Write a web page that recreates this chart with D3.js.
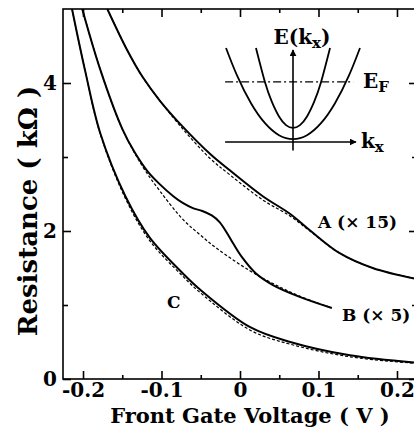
<!DOCTYPE html>
<html>
<head>
<meta charset="utf-8">
<script src="https://cdn.jsdelivr.net/npm/d3@7"></script>
<style>
  html, body { margin: 0; padding: 0; background: #fff; }
  svg { display: block; }
  text { font-family: "DejaVu Serif", "Liberation Serif", serif; font-weight: bold; fill: #000; }
</style>
</head>
<body>
<div id="chart"></div>
<script>
// ---- data (V in volts, R in kOhm) ----
const aSolidV = [-0.169, -0.144, -0.124, -0.102, -0.073, -0.038, -0.013, 0.029, 0.064, 0.089, 0.127, 0.169, 0.2255];
const aSolidR = [5.0, 4.45, 4.08, 3.76, 3.41, 3.04, 2.82, 2.47, 2.23, 2.01, 1.70, 1.50, 1.35];
const aFitV   = [-0.169, -0.144, -0.124, -0.102, -0.073, -0.038, -0.013, 0.029, 0.064, 0.089, 0.127, 0.169, 0.2255];
const aFitR   = [5.0, 4.45, 4.08, 3.76, 3.38, 2.98, 2.76, 2.42, 2.20, 2.00, 1.70, 1.50, 1.35];

const bSolidV = [-0.201, -0.178, -0.150, -0.134, -0.118, -0.102, -0.085, -0.073, -0.060, -0.048, -0.036, -0.026, -0.017, -0.008, 0.003, 0.020, 0.042, 0.076, 0.117];
const bSolidR = [5.0, 4.18, 3.38, 3.06, 2.81, 2.63, 2.47, 2.38, 2.31, 2.27, 2.21, 2.12, 1.98, 1.82, 1.64, 1.43, 1.27, 1.11, 0.96];
const bFitV   = [-0.201, -0.178, -0.150, -0.124, -0.102, -0.073, -0.051, -0.029, 0.013, 0.042, 0.076, 0.117];
const bFitR   = [5.0, 4.18, 3.38, 2.87, 2.54, 2.16, 1.95, 1.76, 1.46, 1.29, 1.12, 0.96];

const cSolidV = [-0.214, -0.197, -0.178, -0.146, -0.115, -0.073, -0.051, 0.013, 0.064, 0.140, 0.2255];
const cSolidR = [5.0, 4.15, 3.32, 2.47, 1.91, 1.43, 1.21, 0.70, 0.50, 0.32, 0.22];
const cFitV   = [-0.214, -0.197, -0.178, -0.146, -0.115, -0.073, -0.051, 0.013, 0.064, 0.140, 0.2255];
const cFitR   = [5.0, 4.15, 3.31, 2.44, 1.87, 1.39, 1.17, 0.66, 0.47, 0.30, 0.21];

const xMajor = [-0.2, -0.1, 0, 0.1, 0.2];
const xMinor = [-0.15, -0.05, 0.05, 0.15];
const yMajor = [0, 2, 4];
const yMinor = [1, 3];

const curveLabels = ["A (× 15)", "B (× 5)", "C"];

// inset: schematic subbands E(kx)
const wideK = [-0.957, -0.8, -0.6, -0.4, -0.2, 0, 0.2, 0.4, 0.6, 0.8, 0.957];
const wideE = [1.0, 0.708, 0.412, 0.20, 0.072, 0.03, 0.072, 0.20, 0.412, 0.708, 1.0];
const narrowK = [-0.529, -0.4, -0.3, -0.2, -0.1, 0, 0.1, 0.2, 0.3, 0.4, 0.529];
const narrowE = [1.0, 0.636, 0.424, 0.272, 0.18, 0.15, 0.18, 0.272, 0.424, 0.636, 1.0];
const fermiE = 0.64;

// ---- layout ----
const W = 414, H = 436;
const mLeft = 63, mRight = 417, mTop = 9, mBottom = 379;

const svg = d3.select("#chart").append("svg")
    .attr("width", W).attr("height", H);

const x = d3.scaleLinear().domain([-0.2255, 0.2255]).range([mLeft, mRight]);
const y = d3.scaleLinear().domain([0, 5]).range([mBottom, mTop]);

const defs = svg.append("defs");
defs.append("clipPath").attr("id", "plot")
    .append("rect").attr("x", mLeft).attr("y", mTop)
    .attr("width", mRight - mLeft).attr("height", mBottom - mTop);

// frame
svg.append("rect")
    .attr("x", mLeft).attr("y", mTop)
    .attr("width", mRight - mLeft).attr("height", mBottom - mTop)
    .attr("fill", "none").attr("stroke", "#000").attr("stroke-width", 1.6);

const fmt = d => d === 0 ? "0" : String(d);

function styleAxis(g) {
    g.select(".domain").remove();
    g.selectAll(".tick line").attr("stroke", "#000").attr("stroke-width", 1.6);
    g.selectAll("text").style("font-size", "20px").attr("fill", "#000");
}

// bottom + top ticks
svg.append("g").attr("transform", `translate(0,${mBottom})`)
    .call(d3.axisBottom(x).tickValues(xMajor).tickFormat(fmt).tickSize(-8).tickPadding(4))
    .call(styleAxis);
svg.append("g").attr("transform", `translate(0,${mBottom})`)
    .call(d3.axisBottom(x).tickValues(xMinor).tickFormat("").tickSize(-4))
    .call(styleAxis);
svg.append("g").attr("transform", `translate(0,${mTop})`)
    .call(d3.axisTop(x).tickValues(xMajor).tickFormat("").tickSize(-8))
    .call(styleAxis);
svg.append("g").attr("transform", `translate(0,${mTop})`)
    .call(d3.axisTop(x).tickValues(xMinor).tickFormat("").tickSize(-4))
    .call(styleAxis);

// left + right ticks
svg.append("g").attr("transform", `translate(${mLeft},0)`)
    .call(d3.axisLeft(y).tickValues(yMajor).tickFormat(fmt).tickSize(-8).tickPadding(6))
    .call(styleAxis);
svg.append("g").attr("transform", `translate(${mLeft},0)`)
    .call(d3.axisLeft(y).tickValues(yMinor).tickFormat("").tickSize(-5))
    .call(styleAxis);
svg.append("g").attr("transform", `translate(${mRight},0)`)
    .call(d3.axisRight(y).tickValues(yMajor).tickFormat("").tickSize(-8))
    .call(styleAxis);
svg.append("g").attr("transform", `translate(${mRight},0)`)
    .call(d3.axisRight(y).tickValues(yMinor).tickFormat("").tickSize(-5))
    .call(styleAxis);

// axis titles
svg.append("text")
    .attr("x", 250).attr("y", 423)
    .attr("text-anchor", "middle")
    .style("font-size", "21px")
    .text("Front Gate Voltage ( V )");

svg.append("text")
    .attr("transform", "translate(37,211) rotate(-90)")
    .attr("text-anchor", "middle")
    .style("font-size", "26px")
    .text("Resistance ( kΩ )");

// ---- curves ----
const line = d3.line()
    .x(d => x(d[0]))
    .y(d => y(d[1]))
    .curve(d3.curveCatmullRom.alpha(0.5));

const plot = svg.append("g").attr("clip-path", "url(#plot)");

const series = [
    { v: aFitV, r: aFitR, dash: true },
    { v: bFitV, r: bFitR, dash: true },
    { v: cFitV, r: cFitR, dash: true },
    { v: aSolidV, r: aSolidR, dash: false },
    { v: bSolidV, r: bSolidR, dash: false },
    { v: cSolidV, r: cSolidR, dash: false }
];

series.forEach(s => {
    plot.append("path")
        .datum(d3.zip(s.v, s.r))
        .attr("d", line)
        .attr("fill", "none")
        .attr("stroke", "#000")
        .attr("stroke-width", s.dash ? 1.2 : 2)
        .attr("stroke-dasharray", s.dash ? "3,2" : null);
});

// curve labels
const labelPos = [[318, 228], [342, 321], [167, 308]];
curveLabels.forEach((t, i) => {
    svg.append("text")
        .attr("x", labelPos[i][0]).attr("y", labelPos[i][1])
        .style("font-size", "17px")
        .text(t);
});

// ---- inset ----
const kx = d3.scaleLinear().domain([-1, 1]).range([223, 363]);
const ey = d3.scaleLinear().domain([0, 1]).range([142, 48]);

const inset = svg.append("g");

defs.append("marker")
    .attr("id", "arrow")
    .attr("viewBox", "0 0 10 10")
    .attr("refX", 9).attr("refY", 5)
    .attr("markerWidth", 7).attr("markerHeight", 7)
    .attr("markerUnits", "userSpaceOnUse")
    .attr("orient", "auto")
    .append("path").attr("d", "M0,0 L10,5 L0,10 z").attr("fill", "#000");

const insetLine = d3.line()
    .x(d => kx(d[0]))
    .y(d => ey(d[1]))
    .curve(d3.curveNatural);

[[wideK, wideE], [narrowK, narrowE]].forEach(([k, e]) => {
    inset.append("path")
        .datum(d3.zip(k, e))
        .attr("d", insetLine)
        .attr("fill", "none")
        .attr("stroke", "#000")
        .attr("stroke-width", 1.8);
});

// kx axis
inset.append("line")
    .attr("x1", kx(-0.97)).attr("x2", kx(0.9))
    .attr("y1", ey(0)).attr("y2", ey(0))
    .attr("stroke", "#000").attr("stroke-width", 1.6)
    .attr("marker-end", "url(#arrow)");
// E axis
inset.append("line")
    .attr("x1", kx(0)).attr("x2", kx(0))
    .attr("y1", ey(-0.09)).attr("y2", ey(0.98))
    .attr("stroke", "#000").attr("stroke-width", 1.6)
    .attr("marker-end", "url(#arrow)");
// Fermi level
inset.append("line")
    .attr("x1", kx(-0.97)).attr("x2", kx(0.86))
    .attr("y1", ey(fermiE)).attr("y2", ey(fermiE))
    .attr("stroke", "#000").attr("stroke-width", 1.4)
    .attr("stroke-dasharray", "8,3,2,3");

const eLab = inset.append("text")
    .attr("x", 302).attr("y", 44)
    .attr("text-anchor", "middle")
    .style("font-size", "20px");
eLab.append("tspan").text("E(k");
eLab.append("tspan").attr("dy", 4).style("font-size", "15px").text("x");
eLab.append("tspan").attr("dy", -4).text(")");

const fLab = inset.append("text")
    .attr("x", 363).attr("y", 88)
    .style("font-size", "20px");
fLab.append("tspan").text("E");
fLab.append("tspan").attr("dy", 4).style("font-size", "15px").text("F");

const kLab = inset.append("text")
    .attr("x", 361).attr("y", 148)
    .style("font-size", "20px");
kLab.append("tspan").text("k");
kLab.append("tspan").attr("dy", 4).style("font-size", "15px").text("x");
</script>
</body>
</html>
